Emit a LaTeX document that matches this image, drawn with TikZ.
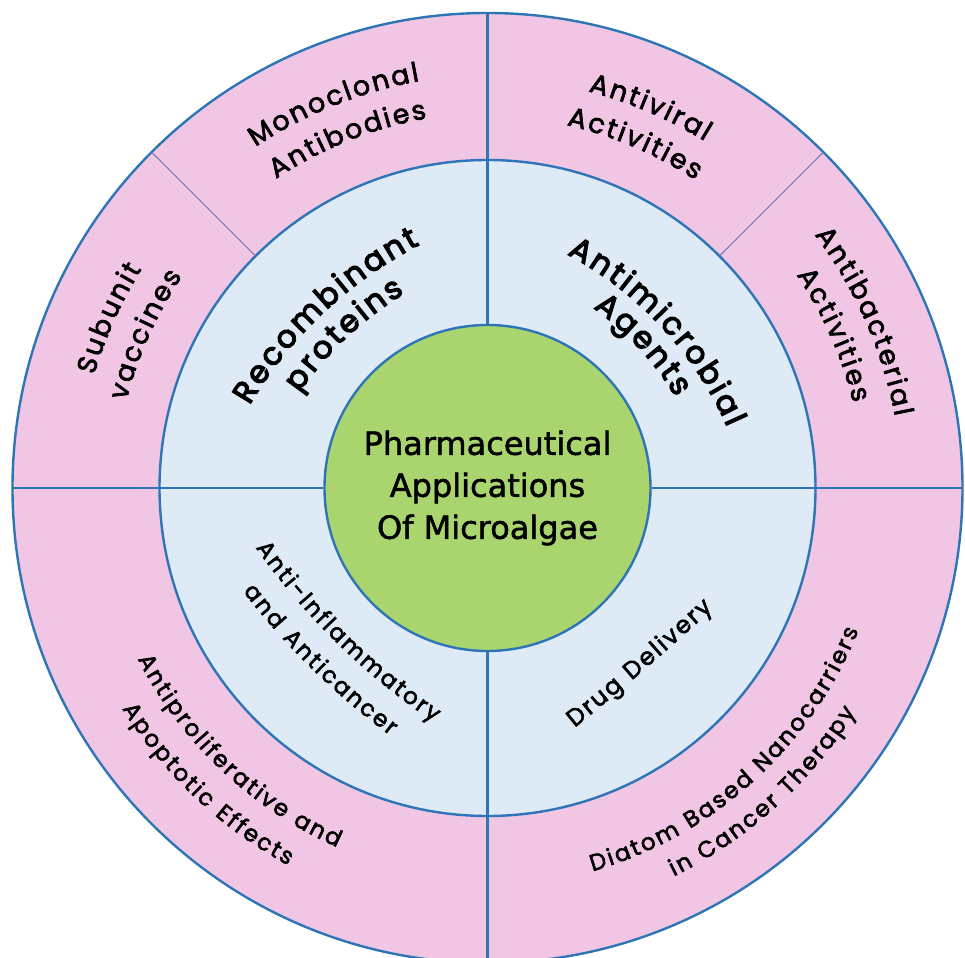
\documentclass[tikz,border=0pt]{standalone}
\usepackage{fontspec}
\setmainfont[FakeBold=1.5]{DejaVu Sans}
\newfontfamily\ringfont[FakeBold=2.5]{Poppins}
\newfontfamily\ringheavy[FakeBold=4]{Poppins}
\usetikzlibrary{decorations.text}

\definecolor{ringpink}{HTML}{F1C6E5}
\definecolor{ringblue}{HTML}{DEEAF6}
\definecolor{hubgreen}{HTML}{A9D46E}
\definecolor{edgeblue}{HTML}{2E75B6}
\definecolor{splitline}{HTML}{6A6FA8}

% fonts for the labels, with a little space before every letter
\newcommand{\outerfont}{\ringfont\fontsize{27}{32}\selectfont\kern2.3pt}
\newcommand{\longfont}{\ringfont\fontsize{23}{28}\selectfont\kern2.3pt}
\newcommand{\boldfont}{\ringheavy\fontsize{31}{36}\selectfont\kern2.8pt}
\newcommand{\smallfont}{\ringfont\fontsize{24}{28}\selectfont\kern2pt}

% text on an arch: angle, baseline radius, arch radius, font, text
\newcommand{\archup}[5]{%
  \pgfmathsetmacro{\archC}{#2-#3}%
  \pgfmathsetmacro{\archS}{deg(400/#3)}%
  \path[decorate,decoration={text along path,text align=center,text={|#4|#5}}]
    (#1:\archC) ++({#1+\archS}:#3) arc[start angle={#1+\archS},end angle={#1-\archS},radius=#3];}
\newcommand{\archdown}[5]{%
  \pgfmathsetmacro{\archC}{#2-#3}%
  \pgfmathsetmacro{\archS}{deg(400/#3)}%
  \path[decorate,decoration={text along path,text align=center,text={|#4|#5}}]
    (#1:\archC) ++({#1-\archS}:#3) arc[start angle={#1-\archS},end angle={#1+\archS},radius=#3];}

\begin{document}
\begin{tikzpicture}[x=1pt,y=1pt,line width=2.4pt]
\newcommand{\rOut}{475}
\newcommand{\rMid}{328}
\newcommand{\rHub}{163}
\clip (-487.5,-469) rectangle (477.5,488);

\draw[edgeblue,fill=ringpink] (0,0) circle[radius=\rOut];
\draw[edgeblue,fill=ringblue] (0,0) circle[radius=\rMid];
\draw[splitline,line width=0.9pt] (45:\rMid) -- (45:\rOut) (135:\rMid) -- (135:\rOut);

\node[circle,draw=edgeblue,fill=hubgreen,minimum size=326pt,inner sep=0pt,align=center,
  font=\fontsize{32}{42}\selectfont] (hub) at (0,0) {Pharmaceutical\\Applications\\Of Microalgae};
\draw[edgeblue] (hub.north) -- (0,\rOut) (hub.south) -- (0,-\rOut)
  (hub.east) -- (\rOut,0) (hub.west) -- (-\rOut,0);

% outer ring
\archup{112}{412}{440}{\outerfont}{Monoclonal}
\archup{112}{374}{400}{\outerfont}{Antibodies}
\archup{156}{409}{435}{\outerfont}{Subunit}
\archup{156}{371}{395}{\outerfont}{vaccines}
\archup{67}{409}{435}{\outerfont}{Antiviral}
\archup{67}{371}{395}{\outerfont}{Activities}
\archup{24}{413}{440}{\outerfont}{Antibacterial}
\archup{24}{375}{400}{\outerfont}{Activities}
\archdown{226.5}{388}{410}{\longfont}{Antiproliferative and}
\archdown{226.5}{426}{450}{\longfont}{Apoptotic Effects}
\archdown{-48}{396}{410}{\longfont}{Diatom Based Nanocarriers}
\archdown{-48}{430}{450}{\longfont}{in Cancer Therapy}

% inner ring
\archup{133.5}{240}{420}{\boldfont}{Recombinant}
\archup{133.5}{206}{350}{\boldfont}{proteins}
\archup{43}{237}{360}{\boldfont}{Antimicrobial}
\archup{43}{206}{300}{\boldfont}{Agents}
\archdown{225.5}{216}{700}{\longfont}{Anti-Inflammatory}
\archdown{225.5}{252}{750}{\longfont}{and Anticancer}
\archdown{-49.3}{240}{3000}{\smallfont}{Drug Delivery}
\end{tikzpicture}
\end{document}
